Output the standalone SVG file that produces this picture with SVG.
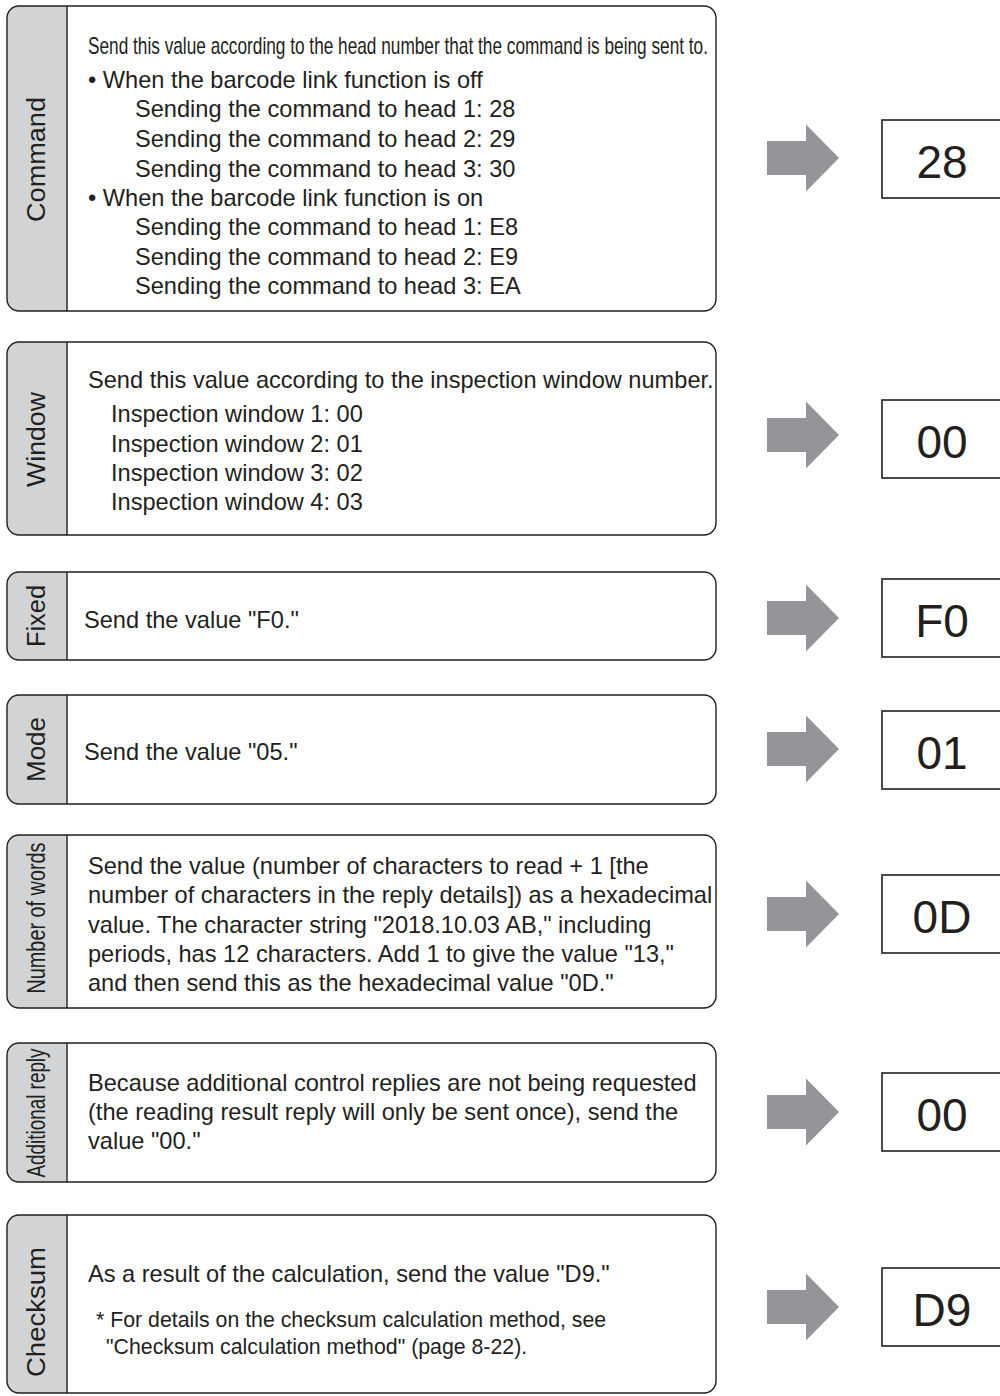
<svg xmlns="http://www.w3.org/2000/svg" width="1000" height="1396" viewBox="0 0 1000 1396">
<style>
.box{fill:none;stroke:#231f20;stroke-width:1.4}
.lab{fill:#d1d3d4;stroke:none}
.div{stroke:#231f20;stroke-width:1.4}
.lt{font-family:"Liberation Sans",Arial,sans-serif;font-size:25px;fill:#231f20;text-anchor:middle}
.t{font-family:"Liberation Sans",Arial,sans-serif;font-size:23.6px;fill:#231f20}
.fn{font-family:"Liberation Sans",Arial,sans-serif;font-size:21.3px;fill:#231f20}
.vb{fill:#fff;stroke:#231f20;stroke-width:1.6}
.vt{font-family:"Liberation Sans",Arial,sans-serif;font-size:46px;fill:#231f20;text-anchor:middle}
.arr{fill:#939598}
</style>
<rect width="1000" height="1396" fill="#fff"/>

<g id="command">
<path class="lab" d="M67,6 H19 A12,12 0 0 0 7,18 V299 A12,12 0 0 0 19,311 H67 Z"/>
<rect class="box" x="7" y="6" width="709" height="305" rx="12"/>
<line class="div" x1="67" y1="6" x2="67" y2="311"/>
<text class="lt" transform="translate(45,159.5) rotate(-90)" textLength="125" lengthAdjust="spacingAndGlyphs">Command</text>
<text class="t" x="88" y="54" font-size="18" textLength="620" lengthAdjust="spacingAndGlyphs">Send this value according to the head number that the command is being sent to.</text>
<text class="t" x="88" y="88">• When the barcode link function is off</text>
<text class="t" x="135" y="117">Sending the command to head 1: 28</text>
<text class="t" x="135" y="147">Sending the command to head 2: 29</text>
<text class="t" x="135" y="177">Sending the command to head 3: 30</text>
<text class="t" x="88" y="206">• When the barcode link function is on</text>
<text class="t" x="135" y="235">Sending the command to head 1: E8</text>
<text class="t" x="135" y="265">Sending the command to head 2: E9</text>
<text class="t" x="135" y="294">Sending the command to head 3: EA</text>
</g>

<g id="window">
<path class="lab" d="M67,342 H19 A12,12 0 0 0 7,354 V523 A12,12 0 0 0 19,535 H67 Z"/>
<rect class="box" x="7" y="342" width="709" height="193" rx="12"/>
<line class="div" x1="67" y1="342" x2="67" y2="535"/>
<text class="lt" transform="translate(45,439.5) rotate(-90)" textLength="95" lengthAdjust="spacingAndGlyphs">Window</text>
<text class="t" x="88" y="388">Send this value according to the inspection window number.</text>
<text class="t" x="111" y="422">Inspection window 1: 00</text>
<text class="t" x="111" y="452">Inspection window 2: 01</text>
<text class="t" x="111" y="481">Inspection window 3: 02</text>
<text class="t" x="111" y="510">Inspection window 4: 03</text>
</g>

<g id="fixed">
<path class="lab" d="M67,572 H19 A12,12 0 0 0 7,584 V648 A12,12 0 0 0 19,660 H67 Z"/>
<rect class="box" x="7" y="572" width="709" height="88" rx="12"/>
<line class="div" x1="67" y1="572" x2="67" y2="660"/>
<text class="lt" transform="translate(45,616) rotate(-90)" textLength="62" lengthAdjust="spacingAndGlyphs">Fixed</text>
<text class="t" x="84" y="628">Send the value "F0."</text>
</g>

<g id="mode">
<path class="lab" d="M67,695 H19 A12,12 0 0 0 7,707 V792 A12,12 0 0 0 19,804 H67 Z"/>
<rect class="box" x="7" y="695" width="709" height="109" rx="12"/>
<line class="div" x1="67" y1="695" x2="67" y2="804"/>
<text class="lt" transform="translate(45,749.5) rotate(-90)" textLength="65" lengthAdjust="spacingAndGlyphs">Mode</text>
<text class="t" x="84" y="760">Send the value "05."</text>
</g>

<g id="number-of-words">
<path class="lab" d="M67,835 H19 A12,12 0 0 0 7,847 V996 A12,12 0 0 0 19,1008 H67 Z"/>
<rect class="box" x="7" y="835" width="709" height="173" rx="12"/>
<line class="div" x1="67" y1="835" x2="67" y2="1008"/>
<text class="lt" transform="translate(45,918) rotate(-90)" textLength="151" lengthAdjust="spacingAndGlyphs">Number of words</text>
<text class="t" x="88" y="874">Send the value (number of characters to read + 1 [the</text>
<text class="t" x="88" y="903">number of characters in the reply details]) as a hexadecimal</text>
<text class="t" x="88" y="933">value. The character string "2018.10.03 AB," including</text>
<text class="t" x="88" y="962">periods, has 12 characters. Add 1 to give the value "13,"</text>
<text class="t" x="88" y="991">and then send this as the hexadecimal value "0D."</text>
</g>

<g id="additional-reply">
<path class="lab" d="M67,1043 H19 A12,12 0 0 0 7,1055 V1170 A12,12 0 0 0 19,1182 H67 Z"/>
<rect class="box" x="7" y="1043" width="709" height="139" rx="12"/>
<line class="div" x1="67" y1="1043" x2="67" y2="1182"/>
<text class="lt" transform="translate(45,1113) rotate(-90)" textLength="129" lengthAdjust="spacingAndGlyphs">Additional reply</text>
<text class="t" x="88" y="1091">Because additional control replies are not being requested</text>
<text class="t" x="88" y="1120">(the reading result reply will only be sent once), send the</text>
<text class="t" x="88" y="1149">value "00."</text>
</g>

<g id="checksum">
<path class="lab" d="M67,1215 H19 A12,12 0 0 0 7,1227 V1381 A12,12 0 0 0 19,1393 H67 Z"/>
<rect class="box" x="7" y="1215" width="709" height="178" rx="12"/>
<line class="div" x1="67" y1="1215" x2="67" y2="1393"/>
<text class="lt" transform="translate(45,1312) rotate(-90)" textLength="130" lengthAdjust="spacingAndGlyphs">Checksum</text>
<text class="t" x="88" y="1282">As a result of the calculation, send the value "D9."</text>
<text class="fn" x="96" y="1327">* For details on the checksum calculation method, see</text>
<text class="fn" x="106" y="1354">"Checksum calculation method" (page 8-22).</text>
</g>

<g id="connectors">
<path class="arr" d="M767,141 H806 V124.5 L839,158 L806,191.5 V175 H767 Z"/>
<path class="arr" d="M767,418 H806 V401.5 L839,435 L806,468.5 V452 H767 Z"/>
<path class="arr" d="M767,601 H806 V584.5 L839,618 L806,651.5 V635 H767 Z"/>
<path class="arr" d="M767,732 H806 V715.5 L839,749 L806,782.5 V766 H767 Z"/>
<path class="arr" d="M767,897 H806 V880.5 L839,914 L806,947.5 V931 H767 Z"/>
<path class="arr" d="M767,1095 H806 V1078.5 L839,1112 L806,1145.5 V1129 H767 Z"/>
<path class="arr" d="M767,1290 H806 V1273.5 L839,1307 L806,1340.5 V1324 H767 Z"/>
</g>

<g id="value-28"><rect class="vb" x="882" y="120" width="130" height="78"/><text class="vt" x="942" y="178">28</text></g>
<g id="value-00-window"><rect class="vb" x="882" y="400" width="130" height="78"/><text class="vt" x="942" y="458">00</text></g>
<g id="value-F0"><rect class="vb" x="882" y="579" width="130" height="78"/><text class="vt" x="942" y="637">F0</text></g>
<g id="value-01"><rect class="vb" x="882" y="711" width="130" height="78"/><text class="vt" x="942" y="769">01</text></g>
<g id="value-0D"><rect class="vb" x="882" y="875" width="130" height="78"/><text class="vt" x="942" y="933">0D</text></g>
<g id="value-00-reply"><rect class="vb" x="882" y="1073" width="130" height="78"/><text class="vt" x="942" y="1131">00</text></g>
<g id="value-D9"><rect class="vb" x="882" y="1268" width="130" height="78"/><text class="vt" x="942" y="1326">D9</text></g>
</svg>
